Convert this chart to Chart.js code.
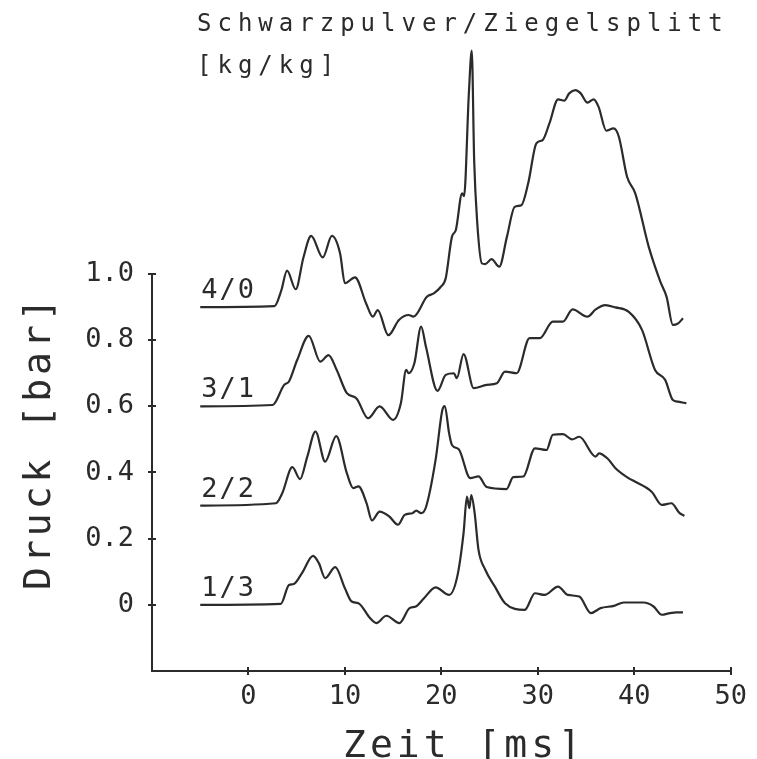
<!DOCTYPE html>
<html><head><meta charset="utf-8">
<script src="https://cdn.jsdelivr.net/npm/chart.js@4.4.1/dist/chart.umd.min.js"></script>
<style>html,body{margin:0;padding:0;background:#fff;}canvas{display:block}</style>
</head><body>
<canvas id="c" width="757" height="759"></canvas>
<script>
// ---- text ----
const titleLines = ['Schwarzpulver/Ziegelsplitt', '[kg/kg]'];
const xTitle = 'Zeit [ms]';
const yTitle = 'Druck [bar]';
const xTicks = [0, 10, 20, 30, 40, 50];
const yTicks = [0, 0.2, 0.4, 0.6, 0.8, 1.0];
const seriesNames = ['4/0', '3/1', '2/2', '1/3'];
const seriesBase = [0.9, 0.6, 0.3, 0];

// ---- series 4/0 ----
const t40 = [-5, 2.7, 3.4, 4.0, 4.9, 5.7, 6.5, 7.7, 8.65, 9.5, 10.0, 11.05, 12.2, 12.9, 13.4, 14.5, 15.6, 16.6, 17.1, 18.5, 19.25, 19.9, 20.45, 21.1, 21.5, 22.15, 22.35, 22.85, 23.15, 23.4, 23.7, 24.2, 24.55, 25.2, 26.0, 26.8, 27.6, 28.3, 29.0, 29.85, 30.5, 31.2, 32.1, 32.75, 33.25, 33.9, 34.45, 35.15, 35.8, 36.3, 37.1, 37.85, 38.4, 39.25, 40.1, 41.5, 42.7, 43.35, 44.0, 44.55, 45.05];
const p40 = [0.9, 0.903, 0.95, 1.01, 0.954, 1.05, 1.115, 1.05, 1.115, 1.062, 0.972, 0.99, 0.911, 0.871, 0.891, 0.815, 0.861, 0.876, 0.871, 0.931, 0.942, 0.96, 0.987, 1.113, 1.133, 1.244, 1.235, 1.546, 1.675, 1.344, 1.163, 1.032, 1.03, 1.045, 1.022, 1.113, 1.203, 1.208, 1.274, 1.395, 1.405, 1.455, 1.528, 1.524, 1.546, 1.556, 1.546, 1.518, 1.528, 1.505, 1.433, 1.44, 1.415, 1.294, 1.244, 1.082, 0.977, 0.931, 0.846, 0.851, 0.866];
// ---- series 3/1 ----
const t31 = [-5, 2.5, 3.7, 4.2, 5.05, 6.25, 7.45, 8.3, 9.15, 10.2, 11.2, 12.4, 13.6, 15.0, 15.8, 16.35, 16.6, 17.2, 17.9, 18.4, 19.6, 20.45, 21.3, 21.6, 22.3, 23.35, 24.7, 25.75, 26.6, 27.8, 29.15, 30.2, 31.55, 32.6, 33.6, 35.15, 36.0, 37.0, 38.05, 39.4, 40.8, 42.15, 43.2, 44.0, 44.55, 45.4];
const p31 = [0.6, 0.604, 0.665, 0.675, 0.74, 0.813, 0.735, 0.755, 0.71, 0.64, 0.624, 0.564, 0.6, 0.559, 0.609, 0.71, 0.7, 0.73, 0.841, 0.78, 0.647, 0.695, 0.7, 0.685, 0.758, 0.655, 0.665, 0.67, 0.705, 0.7, 0.806, 0.806, 0.856, 0.856, 0.893, 0.871, 0.893, 0.906, 0.899, 0.886, 0.831, 0.71, 0.68, 0.619, 0.614, 0.609];
// ---- series 2/2 ----
const t22 = [-5, 2.85, 3.5, 4.55, 5.35, 6.1, 6.95, 7.95, 9.1, 10.2, 10.85, 11.4, 12.25, 12.8, 13.6, 14.6, 15.5, 16.2, 17.0, 17.4, 17.9, 18.4, 19.4, 20.1, 20.35, 20.8, 21.1, 21.8, 23.0, 23.85, 24.7, 26.75, 27.45, 28.5, 29.7, 30.9, 31.55, 32.6, 33.55, 34.3, 36.0, 36.35, 37.2, 38.05, 39.4, 40.1, 41.8, 42.85, 43.85, 44.7, 45.2];
const p22 = [0.3, 0.307, 0.337, 0.416, 0.38, 0.448, 0.524, 0.433, 0.51, 0.398, 0.353, 0.358, 0.307, 0.255, 0.282, 0.267, 0.242, 0.272, 0.277, 0.285, 0.277, 0.295, 0.438, 0.589, 0.601, 0.519, 0.483, 0.47, 0.383, 0.388, 0.356, 0.35, 0.386, 0.388, 0.473, 0.468, 0.514, 0.516, 0.5, 0.508, 0.448, 0.458, 0.443, 0.413, 0.383, 0.372, 0.342, 0.302, 0.307, 0.277, 0.269];
// ---- series 1/3 ----
const t13 = [-5, 3.35, 4.2, 4.7, 5.55, 6.7, 7.3, 7.95, 9.0, 10.0, 10.7, 11.4, 12.6, 13.25, 14.3, 15.65, 16.7, 17.35, 18.2, 19.4, 20.8, 21.65, 22.3, 22.65, 22.9, 23.1, 23.45, 23.85, 24.55, 25.55, 26.6, 28.65, 29.7, 30.7, 32.1, 33.1, 34.3, 35.5, 36.5, 37.9, 38.9, 40.95, 42.0, 42.85, 43.7, 44.4, 45.05];
const p13 = [0, 0.003, 0.06, 0.063, 0.096, 0.148, 0.126, 0.081, 0.114, 0.05, 0.01, 0.005, -0.04, -0.055, -0.033, -0.055, -0.01, -0.005, 0.02, 0.053, 0.03, 0.086, 0.217, 0.327, 0.292, 0.332, 0.277, 0.166, 0.106, 0.055, 0.005, -0.015, 0.035, 0.03, 0.055, 0.03, 0.025, -0.025, -0.01, -0.003, 0.007, 0.007, -0.005, -0.03, -0.025, -0.023, -0.023];

const INK = '#2b2b2b';
const FONT = "'DejaVu Sans Mono', 'Liberation Mono', monospace";

const pts = (t, p) => t.map((x, i) => ({x: x, y: p[i]}));
const seriesT = [t40, t31, t22, t13];
const seriesP = [p40, p31, p22, p13];

const decor = {
  id: 'decor',
  afterDraw(chart) {
    const {ctx, scales: {x, y}} = chart;
    ctx.save();
    ctx.strokeStyle = INK;
    ctx.lineWidth = 2;
    // crossing tick marks
    const x0 = x.getPixelForValue(-10), y0 = y.getPixelForValue(-0.2);
    ctx.beginPath();
    yTicks.forEach(v => { const py = Math.round(y.getPixelForValue(v)); ctx.moveTo(x0 - 4, py); ctx.lineTo(x0 + 4, py); });
    xTicks.forEach(v => { const px = Math.round(x.getPixelForValue(v)); ctx.moveTo(px, y0 - 4); ctx.lineTo(px, y0 + 4); });
    ctx.stroke();
    ctx.fillStyle = INK;
    ctx.textAlign = 'left';
    ctx.textBaseline = 'alphabetic';
    // title
    ctx.font = '24px ' + FONT;
    ctx.letterSpacing = '6px';
    ctx.fillText(titleLines[0], 197, 31);
    ctx.fillText(titleLines[1], 197, 73);
    // series labels
    ctx.font = '27px ' + FONT;
    ctx.letterSpacing = '2px';
    seriesNames.forEach((n, i) => {
      ctx.fillText(n, x.getPixelForValue(-5) + 1, y.getPixelForValue(seriesBase[i]) - 9);
    });
    // axis titles
    ctx.font = '38px ' + FONT;
    ctx.letterSpacing = '4px';
    ctx.fillText(xTitle, 343, 757);
    ctx.save();
    ctx.translate(50, 590);
    ctx.rotate(-Math.PI / 2);
    ctx.fillText(yTitle, 0, 0);
    ctx.restore();
    ctx.restore();
  }
};

new Chart(document.getElementById('c'), {
  type: 'line',
  data: {
    datasets: seriesNames.map((n, i) => ({
      label: n,
      data: pts(seriesT[i], seriesP[i]),
      borderColor: INK,
      borderWidth: 2.2,
      pointRadius: 0,
      cubicInterpolationMode: 'monotone',
      fill: false,
      clip: false
    }))
  },
  options: {
    responsive: false,
    animation: false,
    devicePixelRatio: 1,
    layout: {padding: {left: 0, top: 274, right: 21, bottom: 0}},
    plugins: {legend: {display: false}, tooltip: {enabled: false}, title: {display: false}},
    scales: {
      x: {
        type: 'linear', min: -10, max: 50,
        afterFit(s) { s.height = 88; },
        afterBuildTicks(s) { s.ticks = xTicks.map(v => ({value: v})); },
        grid: {display: false, drawTicks: false},
        border: {display: true, color: INK, width: 2},
        ticks: {padding: 10, color: INK, font: {family: FONT, size: 27}, maxRotation: 0, autoSkip: false, callback: v => String(v)}
      },
      y: {
        type: 'linear', min: -0.2, max: 1.0,
        afterFit(s) { s.width = 152; },
        afterBuildTicks(s) { s.ticks = yTicks.map(v => ({value: v})); },
        grid: {display: false, drawTicks: false},
        border: {display: true, color: INK, width: 2},
        ticks: {padding: 18, color: INK, font: {family: FONT, size: 27}, autoSkip: false, callback: v => (Math.abs(v) < 1e-9 ? '0' : v.toFixed(1))}
      }
    }
  },
  plugins: [decor]
});
</script>
</body></html>
